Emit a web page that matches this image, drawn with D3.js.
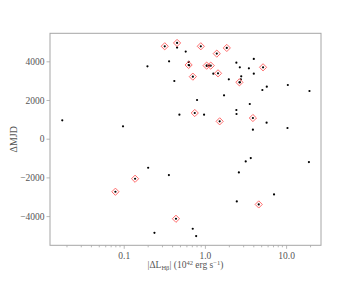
<!DOCTYPE html>
<html><head><meta charset="utf-8">
<script src="https://cdn.jsdelivr.net/npm/d3@7"></script>
<style>
html,body{margin:0;padding:0;background:#fff;}
text{font-family:"Liberation Serif","DejaVu Serif",serif;}
</style></head>
<body><svg id="c" width="363" height="281"></svg>
<script>
// All sources: |ΔL_Hβ| (1e42 erg/s) and ΔMJD
const lumAll = [0.0175,0.098,0.196,0.362,0.42,0.485,0.454,0.58,0.632,0.64,0.80,0.976,1.06,1.27,1.13,1.72,1.97,2.44,2.69,2.8,2.77,2.7,2.44,2.45,3.57,3.48,4.0,4.0,3.9,5.1,5.78,5.75,10.5,10.4,19.4,19.1,3.67,3.18,2.62,2.47,7.1,0.2,0.36,0.239,0.708,0.78,
  0.32,0.454,0.89,1.86,1.40,0.63,1.05,1.18,1.45,0.71,2.66,5.2,0.75,1.52,3.9,0.079,0.138,0.44,4.6];
const mjdAll = [948,638,3741,4000,2983,1241,4707,4500,3966,3793,2000,1241,3776,3362,3776,2241,3069,3931,3690,3224,3069,2914,1483,1276,1793,3638,4121,3362,466,2517,2690,828,2776,552,2466,-1207,-1000,-1172,-1741,-3241,-2879,-1500,-1879,-4862,-4655,-5034,
  4776,4948,4776,4690,4397,3810,3776,3776,3379,3207,2914,3690,1328,897,1069,-2741,-2069,-4138,-3397];
// Highlighted sources (diamond markers)
const lumFlag = [0.32,0.454,0.89,1.86,1.40,0.63,1.05,1.18,1.45,0.71,2.66,5.2,0.75,1.52,3.9,0.079,0.138,0.44,4.6];
const mjdFlag = [4776,4948,4776,4690,4397,3810,3776,3776,3379,3207,2914,3690,1328,897,1069,-2741,-2069,-4138,-3397];
const xTickVals = [0.1,1,10];
const xTickLabels = ["0.1","1.0","10.0"];
const yTickVals = [-4000,-2000,0,2000,4000];

const svg = d3.select("#c");
const L=50, R=321, T=33.3, B=245.3;
const x = d3.scaleLog().domain([0.01236,26.9]).range([L,R]);
const y = d3.scaleLinear().domain([-5509,5447]).range([B,T]);
const textCol="#555", frameCol="#a6a6a6";

// minor x ticks
const minor=[];
[0.01,0.1,1,10].forEach(d=>{for(let k=2;k<=9;k++){const v=d*k; if(v>=0.01236&&v<=26.9) minor.push(v);}});
svg.append("g").selectAll("line").data(minor).join("line")
  .attr("x1",d=>x(d)).attr("x2",d=>x(d)).attr("y1",B).attr("y2",B+2)
  .attr("stroke",frameCol).attr("stroke-width",0.8);

const xAxis = d3.axisBottom(x).tickValues(xTickVals).tickFormat((d,i)=>xTickLabels[i]).tickSize(3.5).tickPadding(3);
const gx = svg.append("g").attr("transform",`translate(0,${B})`).call(xAxis);
const yAxis = d3.axisLeft(y).tickValues(yTickVals).tickFormat(d=>d<0?"\u2212"+Math.abs(d):String(d)).tickSize(3.5).tickPadding(2);
const gy = svg.append("g").attr("transform",`translate(${L},0)`).call(yAxis);
[gx,gy].forEach(g=>{
  g.select(".domain").remove();
  g.selectAll(".tick line").attr("stroke",frameCol).attr("stroke-width",0.8);
  g.selectAll(".tick text").attr("fill",textCol).style("font-size","9.5px").style("font-family","'Liberation Serif',serif");
});

// frame
svg.append("rect").attr("x",L).attr("y",T).attr("width",R-L).attr("height",B-T)
  .attr("fill","none").attr("stroke",frameCol).attr("stroke-width",1);

// dots
svg.append("g").selectAll("circle").data(lumAll.map((v,i)=>[v,mjdAll[i]])).join("circle")
  .attr("cx",d=>x(d[0])).attr("cy",d=>y(d[1])).attr("r",1.1).attr("fill","#000");

// diamonds
const s=3.6;
svg.append("g").selectAll("path").data(lumFlag.map((v,i)=>[v,mjdFlag[i]])).join("path")
  .attr("d",d=>{const cx=x(d[0]),cy=y(d[1]);return `M${cx},${cy-s}L${cx+s},${cy}L${cx},${cy+s}L${cx-s},${cy}Z`;})
  .attr("fill","none").attr("stroke","#ff5a5a").attr("stroke-width",0.9);

// y label
svg.append("text").attr("transform",`translate(15,${(T+B)/2}) rotate(-90)`)
  .attr("text-anchor","middle").attr("dominant-baseline","middle")
  .attr("fill",textCol).style("font-size","10px").text("\u0394MJD");

// x label
const xl = svg.append("text").attr("x",(L+R)/2).attr("y",268).attr("text-anchor","middle")
  .attr("fill",textCol).style("font-size","9.5px");
xl.append("tspan").text("|\u0394L");
xl.append("tspan").attr("dy",2).style("font-size","6.5px").text("H\u03B2");
xl.append("tspan").attr("dy",-2).text("| (10");
xl.append("tspan").attr("dy",-3.5).style("font-size","6.5px").text("42");
xl.append("tspan").attr("dy",3.5).text(" erg s");
xl.append("tspan").attr("dy",-3.5).style("font-size","6.5px").text("\u22121");
xl.append("tspan").attr("dy",3.5).text(")");
</script></body></html>
